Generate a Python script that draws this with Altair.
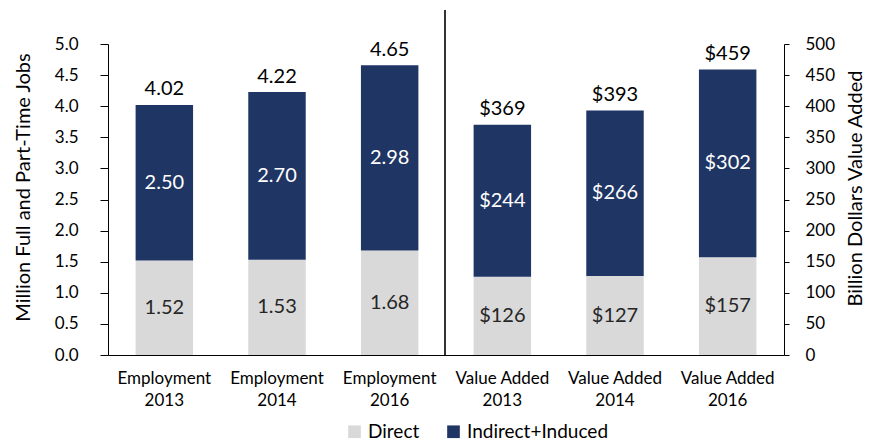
import altair as alt
import pandas as pd

categories = ["Employment 2013", "Employment 2014", "Employment 2016",
              "Value Added 2013", "Value Added 2014", "Value Added 2016"]
components = ["Direct", "Indirect+Induced"]
colors = ["#d9d9d9", "#1f3564"]

jobs_direct = [1.52, 1.53, 1.68]
jobs_indirect = [2.50, 2.70, 2.98]
jobs_total = [4.02, 4.22, 4.65]

va_direct = [126, 127, 157]
va_indirect = [244, 266, 302]
va_total = [369, 393, 459]

jobs_ticks = [0, 0.5, 1, 1.5, 2, 2.5, 3, 3.5, 4, 4.5, 5]
va_ticks = [0, 50, 100, 150, 200, 250, 300, 350, 400, 450, 500]

FONT = "Lato"
W, H = 676, 311


def long_df(cats, direct, indirect):
    rows = []
    for c, d, i in zip(cats, direct, indirect):
        rows.append({"category": c, "component": "Direct", "value": d, "ord": 0})
        rows.append({"category": c, "component": "Indirect+Induced", "value": i, "ord": 1})
    return pd.DataFrame(rows)


def wide_df(cats, direct, indirect, total):
    return pd.DataFrame({"category": cats, "direct": direct, "indirect": indirect, "total": total})


x_enc = alt.X("category:N", sort=categories,
              scale=alt.Scale(domain=categories, paddingInner=0.49, paddingOuter=0.245),
              axis=alt.Axis(title=None, labelAngle=0, ticks=False, domainColor="#000000",
                            labelColor="#000000", labelFontSize=17, labelFont=FONT,
                            labelPadding=15, labelLineHeight=22,
                            labelExpr="[slice(datum.value, 0, -5), slice(datum.value, -4)]"))


def group(cats, direct, indirect, total, domain, axis, fmt, title):
    ldf = long_df(cats, direct, indirect)
    wdf = wide_df(cats, direct, indirect, total)
    yscale = alt.Scale(domain=domain, nice=False)
    bars = alt.Chart(ldf).mark_bar().encode(
        x=x_enc,
        y=alt.Y("value:Q", stack="zero", scale=yscale, axis=axis, title=title),
        color=alt.Color("component:N", scale=alt.Scale(domain=components, range=colors),
                        legend=alt.Legend(orient="none", legendX=237, legendY=378,
                                          direction="horizontal", title=None,
                                          symbolType="square", symbolSize=160,
                                          symbolStrokeWidth=0,
                                          labelFont=FONT, labelFontSize=19,
                                          labelColor="#000000", columnPadding=24)),
        order=alt.Order("ord:Q"),
    )
    base = alt.Chart(wdf).transform_calculate(
        mid_d="datum.direct / 2",
        mid_i="datum.direct + datum.indirect / 2",
    )
    t_d = base.mark_text(font=FONT, fontSize=20, color="#262626", baseline="middle").encode(
        x=x_enc, y=alt.Y("mid_d:Q", scale=yscale, axis=axis, title=title),
        text=alt.Text("direct:Q", format=fmt))
    t_i = base.mark_text(font=FONT, fontSize=20, color="#ffffff", baseline="middle").encode(
        x=x_enc, y=alt.Y("mid_i:Q", scale=yscale, axis=axis, title=title),
        text=alt.Text("indirect:Q", format=fmt))
    t_t = base.mark_text(font=FONT, fontSize=20, color="#000000", baseline="bottom", dy=-6).encode(
        x=x_enc, y=alt.Y("total:Q", scale=yscale, axis=axis, title=title),
        text=alt.Text("total:Q", format=fmt))
    return alt.layer(bars, t_d, t_i, t_t)


left_axis = alt.Axis(orient="left", values=jobs_ticks, format=".1f",
                     grid=False, domainColor="#000000", tickColor="#000000", tickSize=8,
                     labelFont=FONT, labelFontSize=17, labelColor="#000000", labelPadding=22,
                     labelOverlap=False,
                     titleFont=FONT, titleFontSize=20, titleFontWeight="normal",
                     titleColor="#000000", titleX=-85, titleY=143, titleAngle=270,
                     titleAlign="center", titleBaseline="middle")
right_axis = alt.Axis(orient="right", values=va_ticks, format="d",
                      grid=False, domainColor="#000000", tickColor="#000000", tickSize=5,
                      labelFont=FONT, labelFontSize=17, labelColor="#000000", labelPadding=16,
                      labelOverlap=False,
                      titleFont=FONT, titleFontSize=20, titleFontWeight="normal",
                      titleColor="#000000", titleX=71, titleY=144, titleAngle=270,
                      titleAlign="center", titleBaseline="middle")

jobs = group(categories[:3], jobs_direct, jobs_indirect, jobs_total, [0, 5], left_axis, ".2f",
             "Million Full and Part-Time Jobs")
va = group(categories[3:], va_direct, va_indirect, va_total, [0, 500], right_axis, "$.0f",
           "Billion Dollars Value Added")

divider = alt.Chart(pd.DataFrame({"k": [0]})).mark_rule(color="#333333", strokeWidth=2).encode(
    x=alt.value(337), y=alt.value(-34), y2=alt.value(H))

chart = alt.layer(jobs, va, divider).resolve_scale(y="independent").properties(
    width=W, height=H,
    autosize=alt.AutoSizeParams(type="none"),
    padding={"left": 100, "top": 36, "right": 81, "bottom": 100},
).configure_view(stroke=None)

chart.save("out.html", embed_options={"renderer": "svg", "actions": False})
